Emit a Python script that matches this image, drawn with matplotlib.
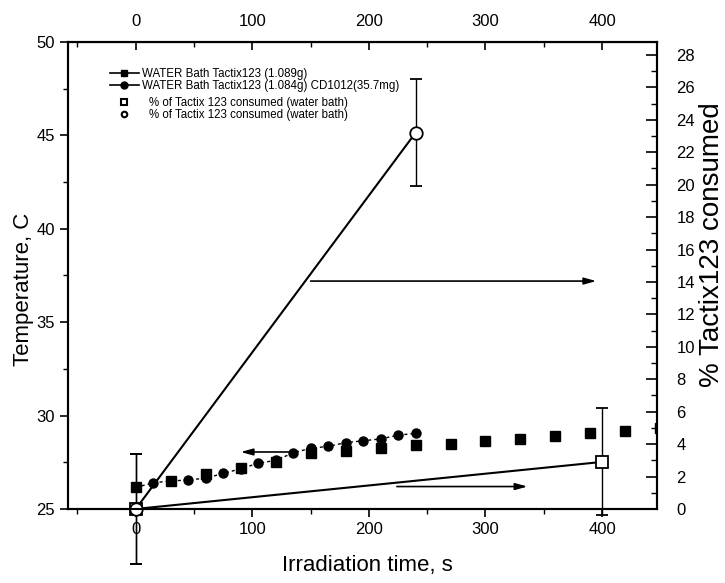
import matplotlib
matplotlib.use("Agg")
import matplotlib.pyplot as plt
from matplotlib.lines import Line2D
from matplotlib.ticker import MultipleLocator

plt.rcParams['font.family'] = ['Liberation Sans', 'DejaVu Sans']

# temperature, water bath, Tactix123 only (squares)
t_sq = [0, 30, 60, 90, 120, 150, 180, 210, 240, 270, 300, 330, 360, 390, 420, 450]
temp_sq = [26.2, 26.5, 26.85, 27.2, 27.5, 28.0, 28.1, 28.25, 28.4, 28.5,
           28.65, 28.75, 28.9, 29.05, 29.15, 29.35]

# temperature, water bath, Tactix123 + CD1012 (circles)
t_ci = [0, 15, 30, 45, 60, 75, 90, 105, 120, 135, 150, 165, 180, 195, 210, 225, 240]
temp_ci = [26.15, 26.4, 26.5, 26.55, 26.65, 26.9, 27.15, 27.45, 27.6, 28.0,
           28.25, 28.35, 28.55, 28.65, 28.75, 28.95, 29.05]

# % Tactix 123 consumed (right axis)
t_pct_sq = [0, 400]
pct_sq = [0, 2.9]
err_sq = [3.4, 3.3]
t_pct_ci = [0, 240]
pct_ci = [0, 23.2]
err_ci = [3.4, 3.3]

# arrows (start x, end x, temperature level)
arrows = [(150, 395, 37.2), (135, 90, 28.05), (224, 336, 26.2)]

x_ticks = [0, 100, 200, 300, 400]
left_ticks = [25, 30, 35, 40, 45, 50]
right_ticks = list(range(0, 29, 2))

fig = plt.figure(figsize=(7.25, 5.83), dpi=100)
ax = fig.add_axes([0.094, 0.127, 0.812, 0.801])
ax2 = ax.twinx()

# left axis: temperatures
ax.plot(t_sq, temp_sq, linestyle='none', marker='s', ms=6.5, color='k')
ax.plot(t_ci, temp_ci, linestyle=(0, (2.2, 2.2)), lw=1.0, marker='o',
        ms=6.5, color='k')

for x0, x1, y in arrows:
    ax.annotate('', xy=(x1, y), xytext=(x0, y),
                arrowprops=dict(arrowstyle='-|>,head_length=0.9,head_width=0.25',
                                color='k', lw=1.2, mutation_scale=8,
                                shrinkA=0, shrinkB=0))

ax.set_xlim(-58, 447)
ax.set_ylim(25, 50)
ax.set_xticks(x_ticks)
ax.xaxis.set_minor_locator(MultipleLocator(50))
ax.set_yticks(left_ticks)
ax.yaxis.set_minor_locator(MultipleLocator(2.5))
ax.tick_params(axis='both', which='major', direction='out', length=6,
               width=1.2, labelsize=12)
ax.tick_params(axis='both', which='minor', direction='out', length=3.5,
               width=1.0)
ax.tick_params(axis='y', right=False)
ax.set_xlabel('Irradiation time, s', fontsize=16)
ax.xaxis.set_label_coords(0.509, -0.098)
ax.set_ylabel('Temperature, C', fontsize=16)
ax.yaxis.set_label_coords(-0.058, 0.47)

# top axis
top = ax.secondary_xaxis('top')
top.set_xticks(x_ticks)
top.xaxis.set_minor_locator(MultipleLocator(50))
top.tick_params(which='major', direction='in', length=6, width=1.2,
                labelsize=12, pad=9)
top.tick_params(which='minor', direction='in', length=3.5, width=1.0)

# right axis: % consumed
c1 = ax2.errorbar(t_pct_sq, pct_sq, yerr=err_sq, fmt='-s', color='k', lw=1.5,
                  ms=9, mfc='white', mec='k', mew=1.3, capsize=4,
                  elinewidth=1.0, capthick=1.0)
c2 = ax2.errorbar(t_pct_ci, pct_ci, yerr=err_ci, fmt='-o', color='k', lw=1.5,
                  ms=9, mfc='white', mec='k', mew=1.3, capsize=4,
                  elinewidth=1.0, capthick=1.0)
for cont in (c1, c2):
    for art in cont.get_children():
        art.set_clip_on(False)

ax2.set_ylim(0, 28.8)
ax2.set_yticks(right_ticks)
ax2.yaxis.set_minor_locator(MultipleLocator(1))
ax2.tick_params(axis='y', which='major', direction='in', length=8,
                width=1.2, labelsize=12, pad=14)
ax2.tick_params(axis='y', which='minor', direction='in', length=4.5,
                width=1.0)
ax2.set_ylabel('% Tactix123 consumed', fontsize=20)
ax2.yaxis.set_label_coords(1.072, 0.565)

for a in (ax, ax2):
    for sp in a.spines.values():
        sp.set_linewidth(1.5)

# legends
h1 = [Line2D([], [], color='k', lw=1.2, marker='s', ms=5),
      Line2D([], [], color='k', lw=1.2, marker='o', ms=5)]
lab1 = ['WATER Bath Tactix123 (1.089g)',
        'WATER Bath Tactix123 (1.084g) CD1012(35.7mg)']
leg1 = ax2.legend(h1, lab1, loc='upper left', bbox_to_anchor=(0.071, 0.945),
                  frameon=False, fontsize=8.3, borderpad=0, borderaxespad=0,
                  labelspacing=0.0, handlelength=2.5, handletextpad=0.3)
ax2.add_artist(leg1)
h2 = [Line2D([], [], linestyle='none', color='k', marker='s', ms=4,
             mfc='white', mew=1.5),
      Line2D([], [], linestyle='none', color='k', marker='o', ms=4,
             mfc='white', mew=1.5)]
lab2 = ['% of Tactix 123 consumed (water bath)',
        '% of Tactix 123 consumed (water bath)']
ax2.legend(h2, lab2, loc='upper left', bbox_to_anchor=(0.071, 0.882),
           frameon=False, fontsize=8.3, borderpad=0, borderaxespad=0,
           labelspacing=0.0, handlelength=2.5, handletextpad=0.9)

fig.savefig('out.png', dpi=100)
